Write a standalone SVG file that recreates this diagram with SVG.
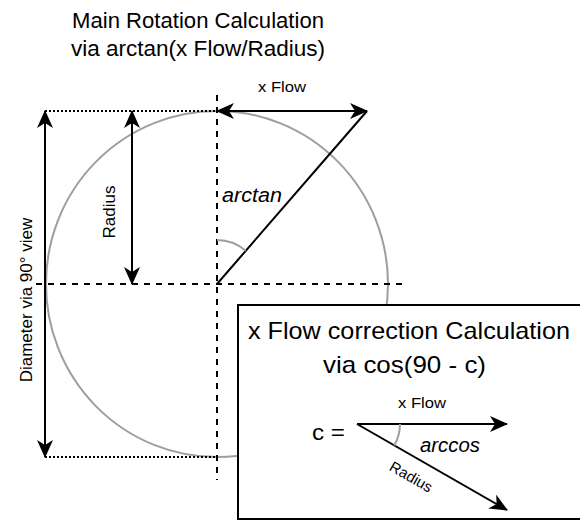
<svg xmlns="http://www.w3.org/2000/svg" width="580" height="522" viewBox="0 0 580 522">
<style>
text{font-family:"Liberation Sans",Arial,sans-serif;fill:#000}
.it{font-style:italic}
.ln{stroke:#000;stroke-width:2;fill:none}
.dash{stroke:#000;stroke-width:2;stroke-dasharray:6 6;fill:none}
.dot{stroke:#000;stroke-width:2;stroke-dasharray:2 2;fill:none}
.gray{stroke:#9e9e9e;stroke-width:2;fill:none}
</style>
<defs>
<marker id="ah" markerUnits="userSpaceOnUse" markerWidth="18" markerHeight="16" refX="17" refY="8" orient="auto-start-reverse">
<path d="M0,0 L18,8 L0,16 L5,8 Z" fill="#000"/>
</marker>
</defs>
<rect width="580" height="522" fill="#fff"/>
<g id="title">
<text x="198" y="28" font-size="22.5" text-anchor="middle" textLength="252" lengthAdjust="spacingAndGlyphs">Main Rotation Calculation</text>
<text x="198" y="55.5" font-size="22.5" text-anchor="middle" textLength="254" lengthAdjust="spacingAndGlyphs">via arctan(x Flow/Radius)</text>
</g>
<g id="circle"><ellipse class="gray" cx="217" cy="284" rx="171" ry="173"/></g>
<g id="connectors">
<line class="dot" x1="45" y1="111" x2="217" y2="111"/>
<line class="dot" x1="45" y1="457" x2="217" y2="457"/>
<line class="dash" x1="217" y1="95" x2="217" y2="480"/>
<line class="dash" x1="36" y1="284" x2="405" y2="284"/>
<line class="ln" x1="45" y1="111" x2="45" y2="457" marker-start="url(#ah)" marker-end="url(#ah)"/>
<line class="ln" x1="132" y1="111" x2="132" y2="284" marker-start="url(#ah)" marker-end="url(#ah)"/>
<line class="ln" x1="217" y1="111" x2="367" y2="111" marker-start="url(#ah)" marker-end="url(#ah)"/>
<line class="ln" x1="217" y1="284" x2="367" y2="111"/>
<path class="gray" d="M217,240 A44,44 0 0,1 245.8,250.8"/>
</g>
<g id="labels">
<text x="258" y="92" font-size="15" textLength="48" lengthAdjust="spacingAndGlyphs">x Flow</text>
<text class="it" x="222" y="202" font-size="19.5" textLength="60" lengthAdjust="spacingAndGlyphs">arctan</text>
<text transform="translate(115,212) rotate(-90)" x="0" y="0" font-size="17" text-anchor="middle">Radius</text>
<text transform="translate(32,300) rotate(-90)" x="0" y="0" font-size="17" text-anchor="middle">Diameter via 90° view</text>
</g>
<g id="box">
<rect x="238" y="305" width="360" height="214" fill="#fff" stroke="#000" stroke-width="2"/>
<text x="248" y="339" font-size="24" textLength="322" lengthAdjust="spacingAndGlyphs">x Flow correction Calculation</text>
<text x="323" y="373" font-size="24" textLength="163" lengthAdjust="spacingAndGlyphs">via cos(90 - c)</text>
<text x="398" y="408" font-size="14.5" textLength="48" lengthAdjust="spacingAndGlyphs">x Flow</text>
<text x="312" y="440" font-size="22" textLength="33" lengthAdjust="spacingAndGlyphs">c =</text>
<text class="it" x="420" y="452" font-size="20" textLength="60" lengthAdjust="spacingAndGlyphs">arccos</text>
<text transform="translate(411,477) rotate(29.8)" x="0" y="5" font-size="15" text-anchor="middle">Radius</text>
<line class="ln" x1="357" y1="424" x2="507" y2="424" marker-end="url(#ah)"/>
<line class="ln" x1="357" y1="424" x2="507" y2="510" marker-end="url(#ah)"/>
<path class="gray" d="M400,424 A43,43 0 0,1 394.3,445.4"/>
</g>
</svg>
